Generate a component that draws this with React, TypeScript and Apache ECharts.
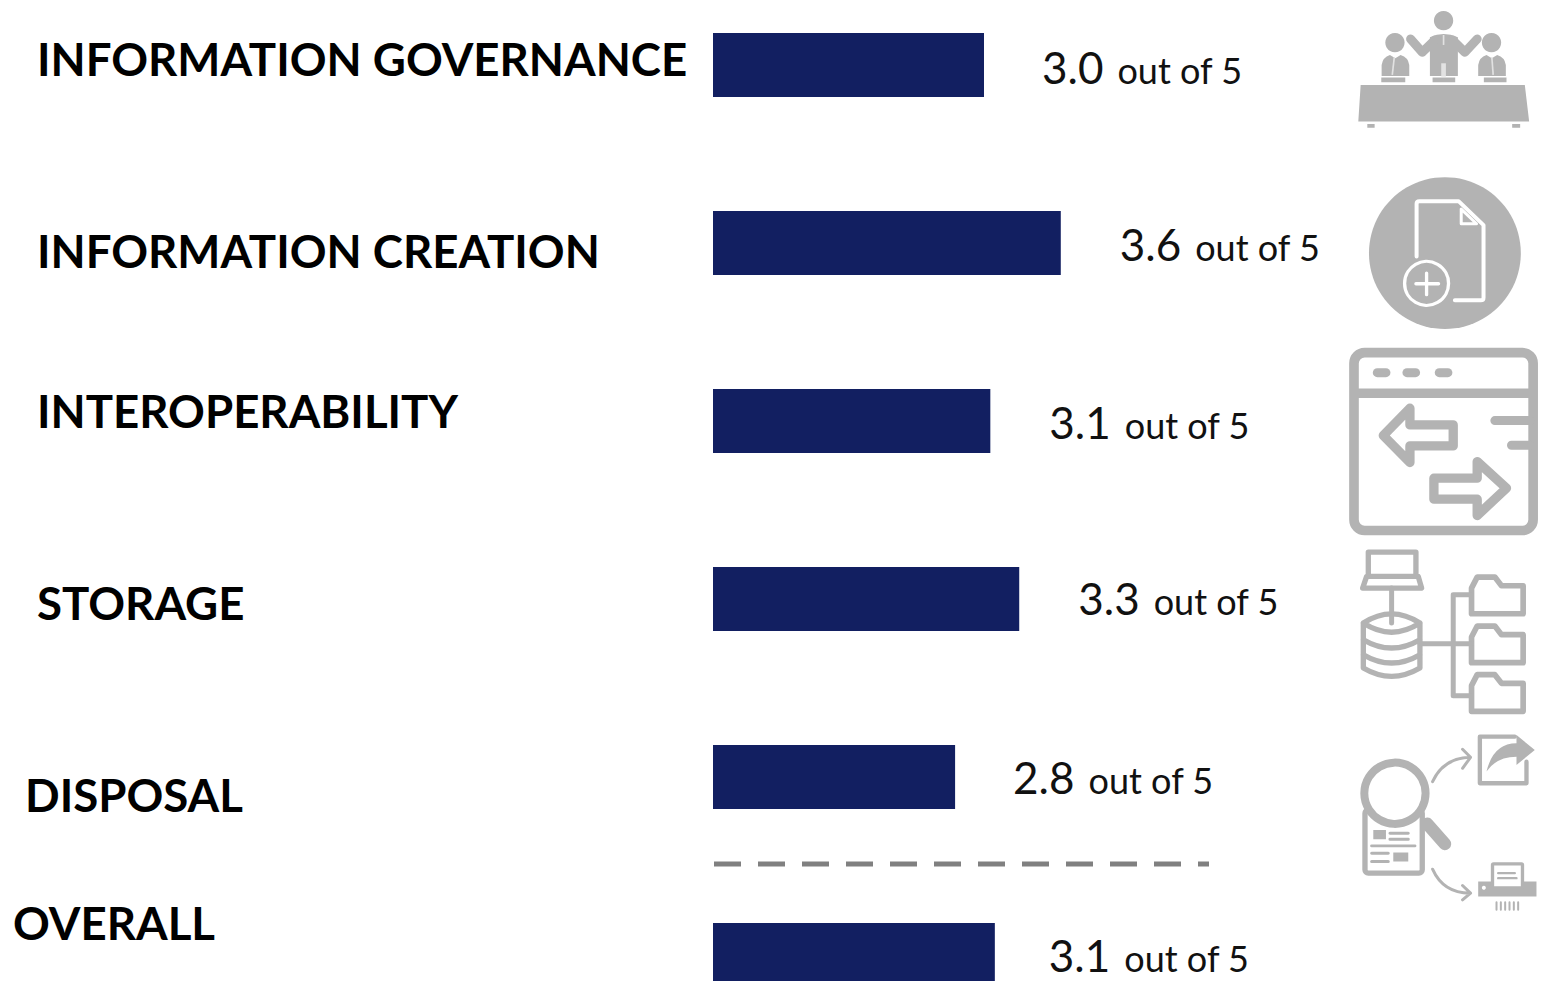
import React, { useEffect, useRef } from "react";
import * as echarts from "echarts";

const categories = ["INFORMATION GOVERNANCE", "INFORMATION CREATION", "INTEROPERABILITY", "STORAGE", "DISPOSAL", "OVERALL"];
const scores = ["3.0", "3.6", "3.1", "3.3", "2.8", "3.1"];
const maxScore = "5";
// Drawn bar lengths (they differ slightly from the printed scores).
const barLengths = [3.0, 3.85, 3.07, 3.39, 2.68, 3.12];

const titleLayout = [[37, 58], [37, 250], [37, 410], [37, 602], [25, 794], [13, 922]];
const labelOffsets = [[-1, 2], [0, 1], [0, 1], [0, -1], [-1, 0], [-5, 0]];

const GRAY = "#b3b3b3";
const NAVY = "#121f61";

const reg = (name: string, d: string) => echarts.graphic.registerShape(name, echarts.graphic.extendPath(d, {}));

reg("icTable", "M62 255L555 255L568 365L55 365ZM82 372H104V384H82ZM517 372H541V384H517ZM270 112Q311 92 354 112V228H270ZM125 228V195Q128 172 150 165L166 175L182 165Q205 172 208 195V228ZM415 228V195Q418 172 440 165L456 175L472 165Q495 172 498 195V228ZM124 233H196V247H124ZM278 233H346V247H278ZM432 233H500V247H432Z");
reg("icDoc", "M230 770V612Q230 604 238 604H356L431 676V894Q431 902 423 902H345");
reg("icFold", "M364 628V672H410Z");
reg("icPlus", "M228 852H296M260 820V885");
reg("icArrL", "M130 287L210 205V255H340V318H210V368Z");
reg("icArrR", "M500 445L412 365V415H282V478H412V527Z");
reg("icTicks", "M465 242H570M515 316H570");
reg("icLaptop", "M85 710V637H228V710M85 710H235L245 745H68L80 710Z");
reg("icDb", "M70 850Q155 795 240 850V985Q155 1035 70 985ZM70 850Q155 905 240 850M70 900Q155 950 240 900M70 945Q155 995 240 945");
reg("icFolder", "M395 745L412 712H465L485 738H550V822H395Z");
reg("icFolder2", "M395 892L412 859H465L485 885H550V969H395Z");
reg("icFolder3", "M395 1038L412 1005H465L485 1031H550V1115H395Z");
reg("icWires", "M155 745V850M395 765H340V1068H395M245 912H395");
reg("icArrows", "M278 185Q310 115 390 112M368 88L392 112L368 145M278 448Q310 520 390 520M368 497L392 520L368 540");
reg("icShareBox", "M560 125V190H420V50H525");
reg("icShare", "M530 45L585 90L530 135V110Q470 110 440 155Q460 70 530 70Z");
reg("icNews", "M100 330H138V358H100ZM160 398H205V425H160ZM415 485H590V530H415Z");
reg("icNewsLines", "M150 340H205M150 358H205M95 378H225M95 400H145M95 425H145");
reg("icStrips", "M470 547V570M483 547V570M496 547V570M509 547V570M522 547V570M535 547V570");
reg("icPaperLines", "M475 460H525M475 475H530");

const fill = (type: string) => ({ type, style: { fill: GRAY } });
const stroke = (type: string, lineWidth: number, color = GRAY, bg = "none") => ({
  type,
  style: { fill: bg, stroke: color, lineWidth, lineCap: "round", lineJoin: "round" },
});
const headCircle = (cx: number, cy: number, r: number) => ({ type: "circle", shape: { cx, cy, r }, style: { fill: GRAY } });

const iconGroup = (y: number, children: any[]) => ({ type: "group", x: 1340, y, scaleX: 1 / 3, scaleY: 1 / 3, children });

const iconsElements = [
  iconGroup(0, [
    fill("icTable"),
    headCircle(311, 62, 29),
    headCircle(165, 128, 29),
    headCircle(455, 128, 29),
    { type: "polyline", shape: { points: [[212, 117], [247, 157], [285, 120]] }, style: { fill: "none", stroke: GRAY, lineWidth: 27, lineCap: "round", lineJoin: "round" } },
    { type: "polyline", shape: { points: [[412, 117], [375, 157], [338, 120]] }, style: { fill: "none", stroke: GRAY, lineWidth: 27, lineCap: "round", lineJoin: "round" } },
    { type: "line", shape: { x1: 311, y1: 105, x2: 311, y2: 135 }, style: { stroke: "#e2e2e2", lineWidth: 5 } },
    { type: "line", shape: { x1: 311, y1: 190, x2: 311, y2: 230 }, style: { stroke: "#e2e2e2", lineWidth: 14 } },
    { type: "line", shape: { x1: 163, y1: 172, x2: 157, y2: 225 }, style: { stroke: "#e2e2e2", lineWidth: 5 } },
    { type: "line", shape: { x1: 456, y1: 172, x2: 460, y2: 225 }, style: { stroke: "#e2e2e2", lineWidth: 5 } },
  ]),
  iconGroup(0, [
    { type: "circle", shape: { cx: 315, cy: 760, r: 228 }, style: { fill: GRAY } },
    stroke("icDoc", 12, "#ffffff"),
    stroke("icFold", 9, "#ffffff"),
    { type: "circle", shape: { cx: 260, cy: 851, r: 66 }, style: { fill: "none", stroke: "#ffffff", lineWidth: 10 } },
    stroke("icPlus", 10, "#ffffff"),
  ]),
  iconGroup(340, [
    { type: "rect", shape: { x: 42, y: 38, width: 538, height: 534, r: 32 }, style: { fill: "none", stroke: GRAY, lineWidth: 29 } },
    { type: "line", shape: { x1: 42, y1: 160, x2: 580, y2: 160 }, style: { stroke: GRAY, lineWidth: 29 } },
    { type: "line", shape: { x1: 112, y1: 98, x2: 138, y2: 98 }, style: { stroke: GRAY, lineWidth: 27, lineCap: "round" } },
    { type: "line", shape: { x1: 201, y1: 98, x2: 227, y2: 98 }, style: { stroke: GRAY, lineWidth: 27, lineCap: "round" } },
    { type: "line", shape: { x1: 298, y1: 98, x2: 324, y2: 98 }, style: { stroke: GRAY, lineWidth: 27, lineCap: "round" } },
    stroke("icArrL", 28),
    stroke("icArrR", 28),
    stroke("icTicks", 27),
    stroke("icLaptop", 16),
    stroke("icDb", 16),
    stroke("icFolder", 17),
    stroke("icFolder2", 17),
    stroke("icFolder3", 17),
    stroke("icWires", 15),
  ]),
  iconGroup(720, [
    { type: "rect", shape: { x: 75, y: 270, width: 172, height: 190, r: 10 }, style: { fill: "#ffffff", stroke: GRAY, lineWidth: 16 } },
    fill("icNews"),
    stroke("icNewsLines", 9),
    { type: "line", shape: { x1: 262, y1: 312, x2: 315, y2: 372 }, style: { stroke: GRAY, lineWidth: 38, lineCap: "round" } },
    { type: "circle", shape: { cx: 165, cy: 220, r: 92 }, style: { fill: "#ffffff", stroke: GRAY, lineWidth: 24 } },
    stroke("icArrows", 9),
    stroke("icShareBox", 13),
    fill("icShare"),
    stroke("icStrips", 6),
    { type: "rect", shape: { x: 458, y: 432, width: 90, height: 72, r: 3 }, style: { fill: "#ffffff", stroke: GRAY, lineWidth: 10 } },
    stroke("icPaperLines", 7),
    { type: "circle", shape: { cx: 432, cy: 504, r: 6 }, style: { fill: "#ffffff" } },
  ]),
];

export default function App() {
  const ref = useRef<HTMLDivElement>(null);
  useEffect(() => {
    document.body.style.margin = "0";
    const chart = echarts.init(ref.current!, null, { renderer: "svg" });
    chart.setOption({
      animation: false,
      backgroundColor: "#ffffff",
      grid: { left: 713, top: -24, width: 451.67, height: 1068, outerBoundsMode: "none", containLabel: false },
      xAxis: { type: "value", min: 0, max: 5, show: false },
      yAxis: { type: "category", data: categories, inverse: true, show: false },
      series: [
        {
          type: "bar",
          barWidth: 64,
          itemStyle: { color: NAVY },
          data: barLengths.map((value, i) => ({
            value,
            label: { offset: labelOffsets[i] },
          })),
          label: {
            show: true,
            position: "right",
            distance: 59,
            formatter: (p: any) => `{a|${scores[p.dataIndex]}}{b|out of ${maxScore}}`,
            rich: {
              a: { fontFamily: "Lato", fontSize: 44, lineHeight: 40, color: "#111111", fontWeight: 400 },
              b: { fontFamily: "Lato", fontSize: 36, lineHeight: 34, color: "#111111", fontWeight: 400, padding: [6, 0, 0, 14] },
            },
          },
        },
      ],
      graphic: {
        elements: [
          ...categories.map((name, i) => ({
            type: "text",
            x: titleLayout[i][0],
            y: titleLayout[i][1],
            style: {
              text: name,
              fontFamily: "Lato",
              fontWeight: "bold",
              fontSize: 45.6,
              fill: "#000000",
              verticalAlign: "middle",
            },
          })),
          {
            type: "line",
            shape: { x1: 714, y1: 864, x2: 1209, y2: 864 },
            style: { stroke: "#808080", lineWidth: 5, lineDash: [27, 17] },
          },
          ...iconsElements,
        ],
      },
    });
    return () => chart.dispose();
  }, []);
  return <div ref={ref} style={{ position: "fixed", left: 0, top: 0, width: 1564, height: 981, overflow: "hidden" }} />;
}
